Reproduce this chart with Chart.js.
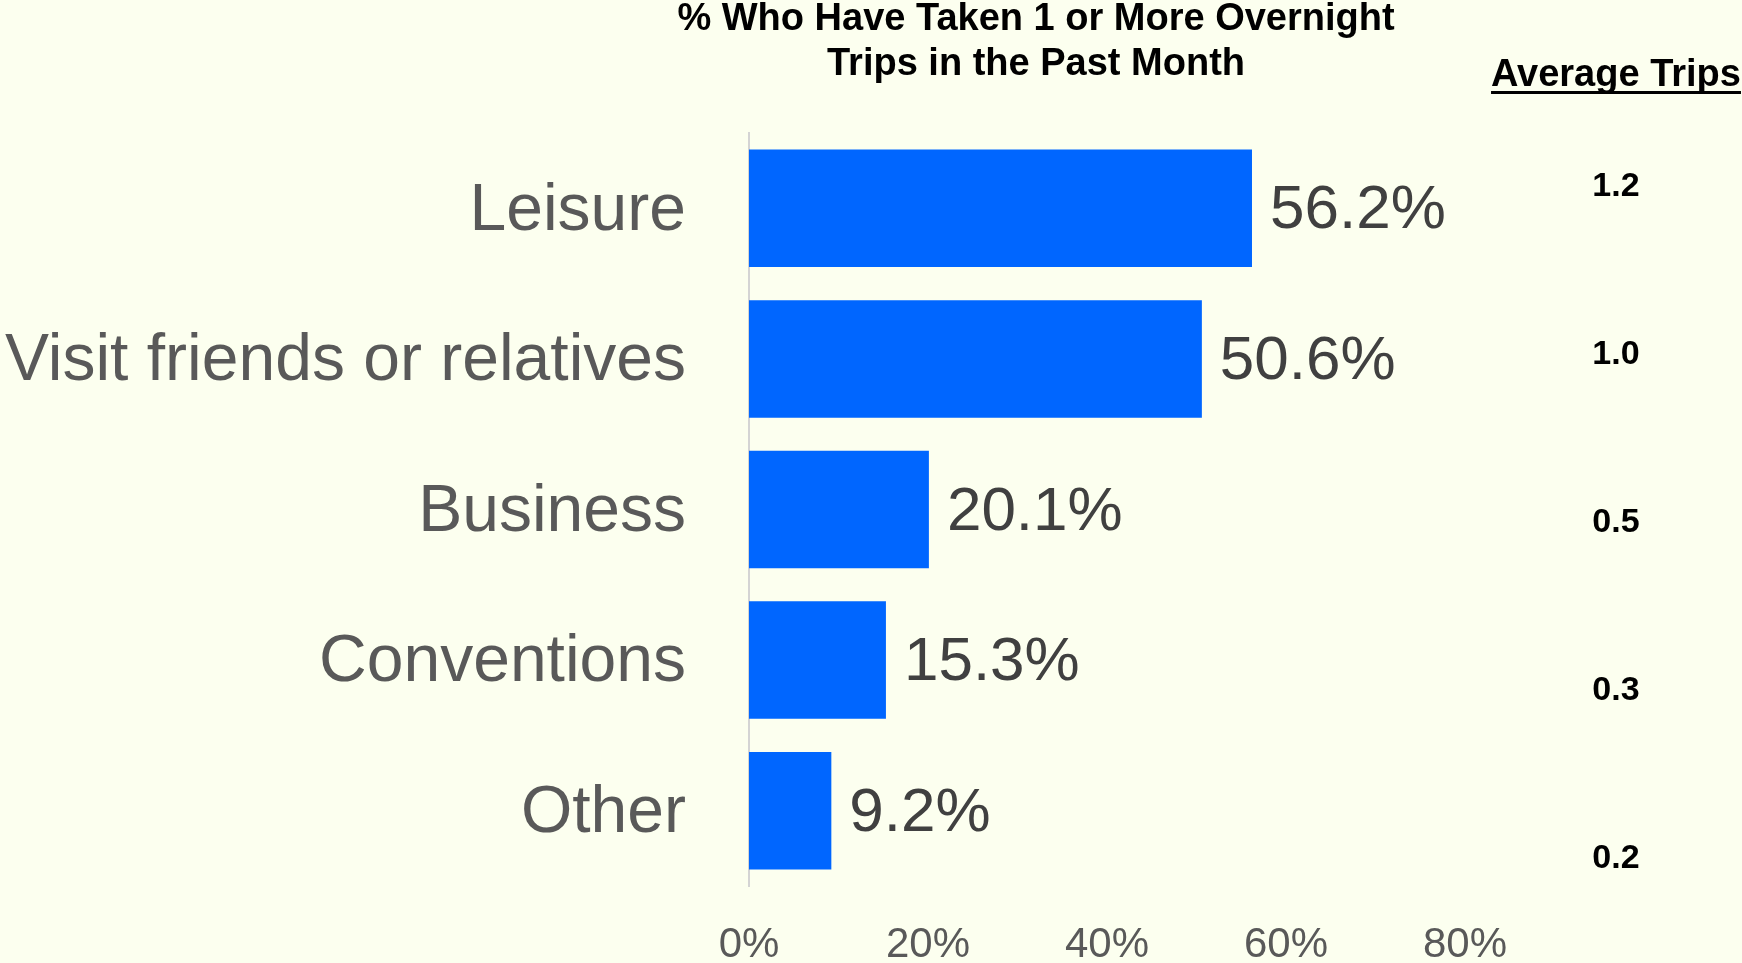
<!DOCTYPE html>
<html>
<head>
<meta charset="utf-8">
<script src="https://cdn.jsdelivr.net/npm/chart.js"></script>
<style>
  html, body { margin: 0; padding: 0; background: #fcffef; }
  #wrap { width: 1742px; height: 963px; position: relative; }
</style>
</head>
<body>
<div id="wrap"><canvas id="myChart"></canvas></div>
<script>
// data
var categories = ['Leisure', 'Visit friends or relatives', 'Business', 'Conventions', 'Other'];
var pctTaken = [56.2, 50.6, 20.1, 15.3, 9.2];
var avgTrips = [1.2, 1.0, 0.5, 0.3, 0.2];
var xTicks = [0, 20, 40, 60, 80];
var titleLines = ['% Who Have Taken 1 or More Overnight', 'Trips in the Past Month'];
var avgTitle = 'Average Trips';

var FONT = '"Liberation Sans", Arial, sans-serif';

// value labels next to each bar
var valueLabels = {
    id: 'valueLabels',
    afterDatasetsDraw: function (chart) {
        var ctx = chart.ctx;
        var meta = chart.getDatasetMeta(0);
        ctx.save();
        ctx.font = '62px ' + FONT;
        ctx.fillStyle = '#404040';
        ctx.textAlign = 'left';
        ctx.textBaseline = 'middle';
        meta.data.forEach(function (bar, i) {
            ctx.fillText(pctTaken[i].toFixed(1) + '%', bar.x + 18, bar.y + 3);
        });
        ctx.restore();
    }
};

// title over the bars and the "Average Trips" column on the right
var sideText = {
    id: 'sideText',
    afterDraw: function (chart) {
        var ctx = chart.ctx;
        var area = chart.chartArea;
        ctx.save();
        ctx.fillStyle = '#000000';
        ctx.textAlign = 'center';
        ctx.textBaseline = 'middle';
        ctx.font = 'bold 38px ' + FONT;
        titleLines.forEach(function (t, i) {
            ctx.fillText(t, 1036, 20 + i * 45);
        });

        // column header, underlined
        var cx = 1616;
        ctx.fillText(avgTitle, cx, 76);
        var w = ctx.measureText(avgTitle).width;
        ctx.fillRect(cx - w / 2, 91, w, 3);

        ctx.font = 'bold 34px ' + FONT;
        var step = 167.8;
        avgTrips.forEach(function (v, i) {
            ctx.fillText(v.toFixed(1), cx, area.top + 54 + i * step);
        });
        ctx.restore();
    }
};

var barChartData = {
    labels: categories,
    datasets: [{
        label: '% taken',
        data: pctTaken,
        backgroundColor: '#0066ff',
        borderWidth: 0,
        categoryPercentage: 1.0,
        barPercentage: 0.78
    }]
};

window.onload = function () {
    var ctx = document.getElementById('myChart');
    window.myBar = new Chart(ctx, {
        type: 'bar',
        data: barChartData,
        plugins: [valueLabels, sideText],
        options: {
            indexAxis: 'y',
            responsive: true,
            maintainAspectRatio: false,
            animation: false,
            layout: { padding: { top: 133, right: 277, left: 0, bottom: 0 } },
            plugins: {
                legend: { display: false },
                title: { display: false },
                tooltip: { enabled: false }
            },
            scales: {
                x: {
                    min: 0,
                    max: 80,
                    afterBuildTicks: function (scale) {
                        scale.ticks = xTicks.map(function (v) { return { value: v }; });
                    },
                    afterFit: function (scale) { scale.height = 77; },
                    grid: { display: false, drawTicks: false },
                    border: { display: false },
                    ticks: {
                        padding: 34,
                        color: '#595959',
                        font: { family: FONT, size: 42 },
                        maxRotation: 0,
                        callback: function (v) { return v + '%'; }
                    }
                },
                y: {
                    afterFit: function (scale) {
                        scale.width = 749;
                        // keep the big label padding from shrinking the plot
                        scale.paddingTop = 0;
                        scale.paddingBottom = 0;
                    },
                    grid: { display: false, drawTicks: false },
                    border: { display: true, color: '#d4d4d4', width: 2 },
                    ticks: {
                        padding: 63,
                        labelOffset: 3,
                        color: '#595959',
                        font: { family: FONT, size: 66 }
                    }
                }
            }
        }
    });
};
</script>
</body>
</html>
